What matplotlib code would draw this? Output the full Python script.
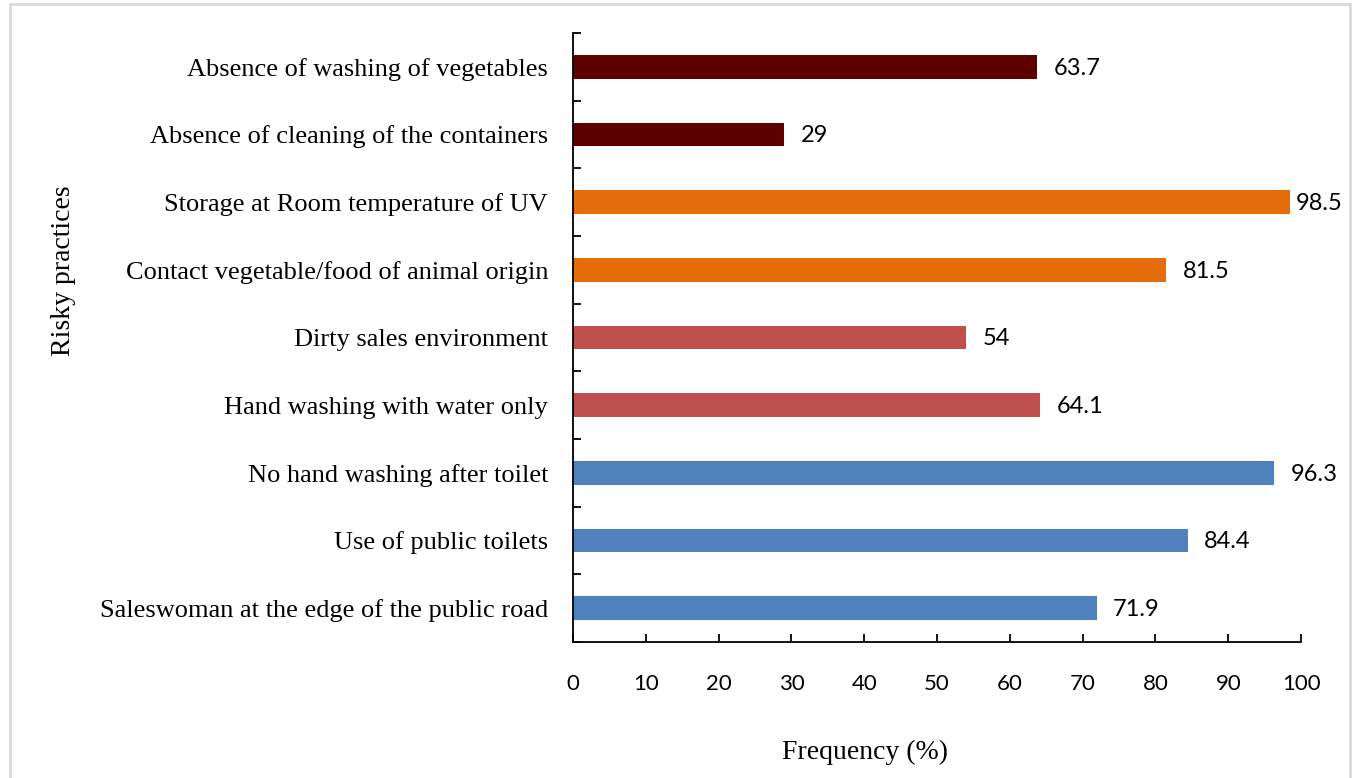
import matplotlib.pyplot as plt
from matplotlib.patches import Rectangle

# risky practices, bottom to top
practices = [
    'Saleswoman at the edge of the public road',
    'Use of public toilets',
    'No hand washing after toilet',
    'Hand washing with water only',
    'Dirty sales environment',
    'Contact vegetable/food of animal origin',
    'Storage at Room temperature of UV',
    'Absence of cleaning of the containers',
    'Absence of washing of vegetables',
]
frequency = [71.9, 84.4, 96.3, 64.1, 54, 81.5, 98.5, 29, 63.7]
group = [0, 0, 0, 1, 1, 2, 2, 3, 3]
group_colors = ['#4F81BD', '#C0504D', '#E46C0A', '#5C0000']
x_ticks = list(range(0, 101, 10))

serif = 'Liberation Serif'
sans = 'Lato'

fig = plt.figure(figsize=(13.56, 7.78), dpi=100)
ax = fig.add_axes([0.4226, 0.1748, 0.5369, 0.7828])

pos = range(len(practices))
colors = [group_colors[g] for g in group]
ax.barh(pos, frequency, height=0.35, color=colors, zorder=2)

for y, v in zip(pos, frequency):
    off = 4 if v > 97 else 12
    ax.annotate(f'{v:g}', (v, y), xytext=(off, -1), textcoords='offset points',
                va='center', ha='left', fontsize=17, family=sans)

ax.set_xlim(0, 100)
ax.set_ylim(-0.5, len(practices) - 0.5)
ax.set_xticks(x_ticks)
ax.set_xticklabels([str(t) for t in x_ticks], family=sans, fontsize=16)
ax.set_yticks(pos)
ax.set_yticklabels(practices, family=serif, fontsize=19)
ax.tick_params(axis='y', length=0, pad=18)
ax.set_yticks([i - 0.5 for i in range(len(practices) + 1)], minor=True)
ax.tick_params(axis='y', which='minor', direction='in', length=6, width=1.3)
ax.tick_params(axis='x', direction='in', length=6, width=1.3, pad=23)

for s in ['top', 'right']:
    ax.spines[s].set_visible(False)
for s in ['left', 'bottom']:
    ax.spines[s].set_linewidth(1.3)

fig.text(0.0465, 0.652, 'Risky practices', rotation=90, ha='center', va='center',
         family=serif, fontsize=20)
fig.text(0.638, 0.033, 'Frequency (%)', ha='center', va='center',
         family=serif, fontsize=20)

# light frame around the chart area
fig.patches.append(Rectangle((10 / 1356, -0.01), 1340 / 1356, 1 - 4 / 778 + 0.01,
                             transform=fig.transFigure, fill=False,
                             edgecolor='#D9D9D9', linewidth=2))

fig.savefig('out.png', dpi=100)
